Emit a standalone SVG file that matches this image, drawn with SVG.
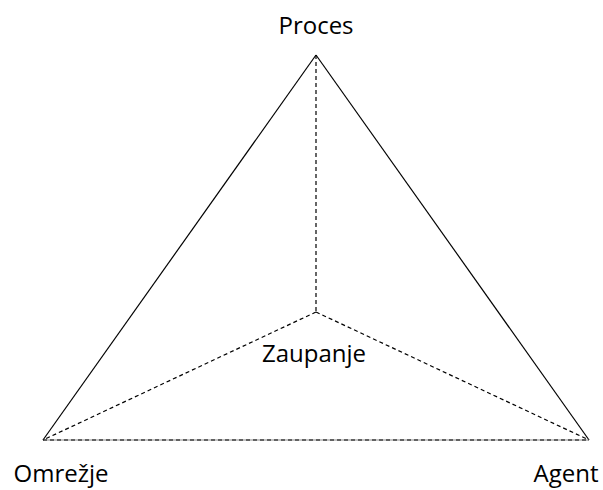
<svg xmlns="http://www.w3.org/2000/svg" width="603" height="490" viewBox="0 0 603 490">
  <style>
    .solid { stroke: #000; stroke-width: 1.2; fill: none; }
    .dash { stroke: #000; stroke-width: 1.2; stroke-dasharray: 4 3; fill: none; }
    .base { stroke: #8a8a8a; stroke-width: 1.2; fill: none; }
    .label { font-family: "Open Sans", "Liberation Sans", sans-serif; font-size: 24px; fill: #000; text-anchor: middle; }
  </style>
  <rect width="603" height="490" fill="#fff"/>
  <g id="connectors">
    <line class="solid" x1="316" y1="55" x2="43" y2="440"/>
    <line class="solid" x1="316" y1="55" x2="589" y2="440"/>
    <line class="base" x1="43" y1="440" x2="589" y2="440"/>
    <line class="dash" x1="43" y1="440" x2="589" y2="440"/>
    <line class="dash" x1="316" y1="55" x2="316" y2="312"/>
    <line class="dash" x1="316" y1="312" x2="43" y2="440"/>
    <line class="dash" x1="316" y1="312" x2="589" y2="440"/>
  </g>
  <g id="proces"><text class="label" x="316" y="34">Proces</text></g>
  <g id="omrezje"><text class="label" x="61" y="482">Omrežje</text></g>
  <g id="agent"><text class="label" x="566" y="482">Agent</text></g>
  <g id="zaupanje"><text class="label" x="314" y="362">Zaupanje</text></g>
</svg>
